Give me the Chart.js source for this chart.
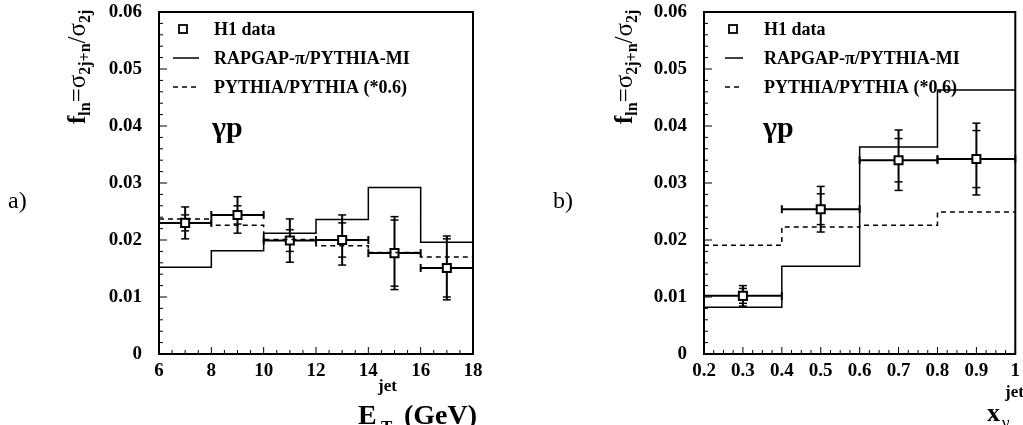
<!DOCTYPE html>
<html>
<head>
<meta charset="utf-8">
<script src="https://cdn.jsdelivr.net/npm/chart.js@4.4.1/dist/chart.umd.min.js"></script>
<style>
body { margin: 0; background: #fff; }
#wrap { position: relative; width: 1023px; height: 425px; overflow: hidden; }
canvas { position: absolute; top: 0; }
</style>
</head>
<body>
<div id="wrap">
  <canvas id="panelA" width="500" height="425" style="left:0px"></canvas>
  <canvas id="panelB" width="523" height="425" style="left:500px"></canvas>
</div>
<script>
const FONT = '"Liberation Serif", "Times New Roman", serif';

// panel a) : E_T^jet bins
const etEdges = [6, 8, 10, 12, 14, 16, 18];
const etRapgap = [0.0152, 0.0181, 0.0212, 0.0236, 0.0292, 0.0196];
const etPythia = [0.0237, 0.0226, 0.0201, 0.0190, 0.0178, 0.0170];
const etCenters = [7, 9, 11, 13, 15, 17];
const etXerr = [1, 1, 1, 1, 1, 1];
const etData = [0.0230, 0.0244, 0.0199, 0.0200, 0.0177, 0.0151];
const etStat = [0.0014, 0.0016, 0.0019, 0.0030, 0.0058, 0.0051];
const etTot = [0.0028, 0.0032, 0.0038, 0.0044, 0.0064, 0.0056];

// panel b) : x_gamma^jet bins
const xgEdges = [0.2, 0.4, 0.6, 0.8, 1.0];
const xgRapgap = [0.0082, 0.0154, 0.0363, 0.0463];
const xgPythia = [0.0191, 0.0223, 0.0226, 0.0249];
const xgCenters = [0.3, 0.5, 0.7, 0.9];
const xgXerr = [0.1, 0.1, 0.1, 0.1];
const xgData = [0.0102, 0.0254, 0.0340, 0.0342];
const xgStat = [0.0013, 0.0027, 0.0038, 0.0050];
const xgTot = [0.0018, 0.0040, 0.0053, 0.0063];

const legendLabels = ['H1 data', 'RAPGAP-\u03c0/PYTHIA-MI', 'PYTHIA/PYTHIA (*0.6)'];

function histPoints(edges, vals) {
  return edges.map((e, i) => ({ x: e, y: vals[Math.min(i, vals.length - 1)] }));
}

function line(ctx, x1, y1, x2, y2) {
  ctx.beginPath();
  ctx.moveTo(x1, y1);
  ctx.lineTo(x2, y2);
  ctx.stroke();
}

// draw a run of text pieces (for sub/superscripts)
function richText(ctx, parts, x, y) {
  let cx = x;
  parts.forEach(p => {
    ctx.font = p.font;
    ctx.fillText(p.t, cx, y + (p.dy || 0));
    cx += ctx.measureText(p.t).width;
  });
}

function makePanel(id, p) {
  const plugin = {
    id: 'panelDeco',
    beforeDatasetDraw(chart, args) {
      if (args.index !== 2) return;
      const ctx = chart.ctx, xs = chart.scales.x, ys = chart.scales.y;
      ctx.save();
      ctx.strokeStyle = '#000';
      p.centers.forEach((c, i) => {
        const px = xs.getPixelForValue(c), py = ys.getPixelForValue(p.vals[i]);
        const xl = xs.getPixelForValue(c - p.xerr[i]), xr = xs.getPixelForValue(c + p.xerr[i]);
        ctx.lineWidth = 2;
        line(ctx, xl, py, xr, py);
        line(ctx, xl, py - 4, xl, py + 4);
        line(ctx, xr, py - 4, xr, py + 4);
        const yt = ys.getPixelForValue(p.vals[i] + p.tot[i]);
        const yb = ys.getPixelForValue(p.vals[i] - p.tot[i]);
        line(ctx, px, yt, px, yb);
        ctx.lineWidth = 1.5;
        [p.tot[i], p.stat[i]].forEach(e => {
          const a = ys.getPixelForValue(p.vals[i] + e), b = ys.getPixelForValue(p.vals[i] - e);
          line(ctx, px - 4, a, px + 4, a);
          line(ctx, px - 4, b, px + 4, b);
        });
      });
      ctx.restore();
    },
    afterDraw(chart) {
      const ctx = chart.ctx, xs = chart.scales.x, ys = chart.scales.y, a = chart.chartArea;
      ctx.save();
      ctx.strokeStyle = '#000';
      ctx.fillStyle = '#000';
      // ticks inside the frame
      ctx.lineWidth = 1;
      const ny = Math.round(0.06 / 0.002);
      for (let i = 0; i <= ny; i++) {
        const py = ys.getPixelForValue(i * 0.002);
        line(ctx, a.left, py, a.left + (i % 5 === 0 ? 8 : 4), py);
      }
      const nx = Math.round((p.max - p.min) / p.minor);
      for (let i = 0; i <= nx; i++) {
        const px = xs.getPixelForValue(p.min + i * p.minor);
        line(ctx, px, a.bottom, px, a.bottom - (i % p.majorEvery === 0 ? 7 : 4));
      }
      // frame
      ctx.lineWidth = 2;
      ctx.strokeRect(a.left, a.top, a.right - a.left, a.bottom - a.top);

      // legend
      const L = p.legend;
      const rows = [29, 58, 87];
      ctx.lineWidth = 1.8;
      ctx.fillStyle = '#fff';
      ctx.fillRect(L.mx - 4, rows[0] - 4, 8, 8);
      ctx.strokeRect(L.mx - 4, rows[0] - 4, 8, 8);
      ctx.lineWidth = 1.5;
      line(ctx, L.x1, rows[1], L.x2, rows[1]);
      ctx.setLineDash([5, 4]);
      line(ctx, L.x1, rows[2], L.x2, rows[2]);
      ctx.setLineDash([]);
      ctx.fillStyle = '#000';
      ctx.textBaseline = 'middle';
      ctx.font = 'bold 18px ' + FONT;
      legendLabels.forEach((t, i) => ctx.fillText(t, L.tx, rows[i] + 1));
      ctx.textBaseline = 'alphabetic';
      ctx.font = 'bold 30px ' + FONT;
      ctx.fillText('\u03b3p', L.gx, 137);

      // panel tag
      ctx.font = '24px ' + FONT;
      ctx.fillText(p.tag, p.tagX, 208);

      // y title (rotated)
      ctx.save();
      ctx.translate(p.yTitleX, 124);
      ctx.rotate(-Math.PI / 2);
      const big = 'bold 25px ' + FONT, sym = '25px ' + FONT, sub = 'bold 16px ' + FONT;
      richText(ctx, [
        { t: 'f', font: big }, { t: 'ln', font: sub, dy: 5 },
        { t: '=', font: sym }, { t: '\u03c3', font: sym }, { t: '2j+n', font: sub, dy: 5 },
        { t: '/', font: sym }, { t: '\u03c3', font: sym }, { t: '2j', font: sub, dy: 5 }
      ], 0, 0);
      ctx.restore();

      // x title
      p.xTitle(ctx);
      ctx.restore();
    }
  };

  return new Chart(document.getElementById(id), {
    type: 'scatter',
    data: {
      datasets: [
        { label: 'RAPGAP', data: histPoints(p.edges, p.rapgap), showLine: true, stepped: true,
          borderColor: '#000', borderWidth: 1.5, pointRadius: 0 },
        { label: 'PYTHIA', data: histPoints(p.edges, p.pythia), showLine: true, stepped: true,
          borderColor: '#000', borderWidth: 1.5, borderDash: [5, 4], pointRadius: 0 },
        { label: 'H1 data', data: p.centers.map((c, i) => ({ x: c, y: p.vals[i] })),
          pointStyle: 'rect', pointRadius: 5.7, borderWidth: 2, borderColor: '#000', backgroundColor: '#fff' }
      ]
    },
    options: {
      responsive: false,
      animation: false,
      devicePixelRatio: 1,
      events: [],
      layout: { padding: { left: 0, top: 12, right: p.padRight, bottom: 0 } },
      plugins: { legend: { display: false }, tooltip: { enabled: false } },
      scales: {
        x: {
          type: 'linear', min: p.min, max: p.max,
          grid: { display: false, drawTicks: false }, border: { display: false },
          ticks: { stepSize: p.step, autoSkip: false, maxRotation: 0, padding: 6, color: '#000',
                   font: { family: FONT, size: 19, weight: 'bold' }, callback: p.xFmt },
          afterFit: s => { s.height = 71; s.paddingLeft = 0; s.paddingRight = 0; }
        },
        y: {
          min: 0, max: 0.06,
          grid: { display: false, drawTicks: false }, border: { display: false },
          ticks: { stepSize: 0.01, padding: 17, color: '#000',
                   font: { family: FONT, size: 19, weight: 'bold' },
                   callback: v => (Math.abs(v) < 1e-9 ? '0' : v.toFixed(2)) },
          afterFit: s => { s.width = p.yWidth; s.paddingTop = 0; s.paddingBottom = 0; }
        }
      }
    },
    plugins: [plugin]
  });
}

makePanel('panelA', {
  edges: etEdges, rapgap: etRapgap, pythia: etPythia, centers: etCenters, xerr: etXerr,
  vals: etData, stat: etStat, tot: etTot,
  min: 6, max: 18, step: 2, minor: 0.5, majorEvery: 4,
  xFmt: v => String(Math.round(v)),
  yWidth: 159, padRight: 27,
  legend: { mx: 183, x1: 173, x2: 199, tx: 214, gx: 212 },
  tag: 'a)', tagX: 8, yTitleX: 85,
  xTitle: ctx => {
    ctx.font = 'bold 28px ' + FONT;
    ctx.fillText('E', 358, 424);
    ctx.fillText('(GeV)', 404, 424);
    ctx.font = 'bold 17px ' + FONT;
    ctx.fillText('jet', 378, 391);
    ctx.fillText('T', 381, 432);
  }
});

makePanel('panelB', {
  edges: xgEdges, rapgap: xgRapgap, pythia: xgPythia, centers: xgCenters, xerr: xgXerr,
  vals: xgData, stat: xgStat, tot: xgTot,
  min: 0.2, max: 1.0, step: 0.1, minor: 0.025, majorEvery: 4,
  xFmt: v => (Math.abs(v - 1) < 1e-9 ? '1' : v.toFixed(1)),
  yWidth: 204, padRight: 5,
  legend: { mx: 233, x1: 225, x2: 243, tx: 264, gx: 263 },
  tag: 'b)', tagX: 53, yTitleX: 132,
  xTitle: ctx => {
    ctx.font = 'bold 26px ' + FONT;
    ctx.fillText('x', 487, 421);
    ctx.font = '17px ' + FONT;
    ctx.fillText('\u03b3', 502, 428);
    ctx.font = 'bold 17px ' + FONT;
    ctx.fillText('jet', 505, 397);
  }
});
</script>
</body>
</html>
